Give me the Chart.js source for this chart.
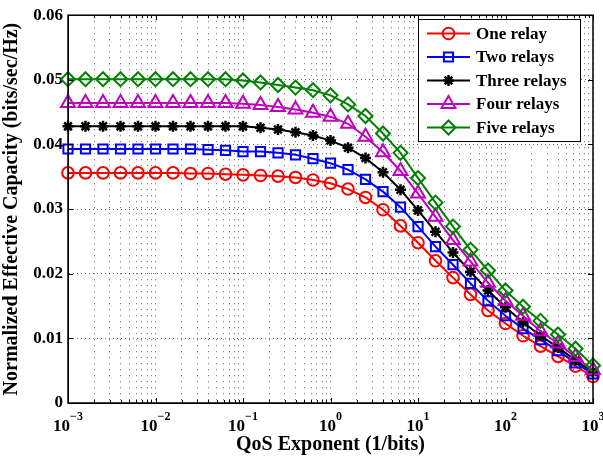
<!DOCTYPE html>
<html>
<head>
<meta charset="utf-8">
<script src="https://cdn.jsdelivr.net/npm/chart.js@4.4.1/dist/chart.umd.min.js"></script>
<style>
  html, body { margin: 0; padding: 0; background: #fff; }
</style>
</head>
<body>
<canvas id="capacidade" width="603" height="459"></canvas>
<script>
// eixo x: expoente QoS (5 pontos por decada)
const qosExpoente = [
  0.001, 0.001585, 0.002512, 0.003981, 0.00631,
  0.01, 0.01585, 0.02512, 0.03981, 0.0631,
  0.1, 0.1585, 0.2512, 0.3981, 0.631,
  1, 1.585, 2.512, 3.981, 6.31,
  10, 15.85, 25.12, 39.81, 63.1,
  100, 158.5, 251.2, 398.1, 631,
  1000,
];

// capacidade efetiva normalizada por numero de relays
const umRelay = [
  0.0356, 0.0356, 0.0356, 0.0356, 0.0356, 0.0356, 0.0356, 0.0355, 0.0355, 0.0354,
  0.0353, 0.0352, 0.0351, 0.0349, 0.0345, 0.034, 0.0331, 0.0318, 0.0299, 0.0274,
  0.0248, 0.022, 0.0194, 0.0168, 0.0143, 0.0123, 0.0104, 0.0088, 0.0072, 0.0057,
  0.0041,
];
const doisRelays = [
  0.0393, 0.0393, 0.0393, 0.0393, 0.0393, 0.0393, 0.0393, 0.0393, 0.0392, 0.0391,
  0.0389, 0.0389, 0.0387, 0.0384, 0.0378, 0.0371, 0.0361, 0.0346, 0.0327, 0.0303,
  0.0273, 0.0242, 0.0214, 0.0185, 0.0158, 0.0135, 0.0115, 0.0098, 0.0081, 0.0062,
  0.0045,
];
const tresRelays = [
  0.0428, 0.0428, 0.0428, 0.0428, 0.0428, 0.0428, 0.0428, 0.0428, 0.0428, 0.0428,
  0.0428, 0.0426, 0.0423, 0.0419, 0.0414, 0.0406, 0.0395, 0.0379, 0.0357, 0.033,
  0.0298, 0.0265, 0.0233, 0.0203, 0.0174, 0.0148, 0.0125, 0.0104, 0.0086, 0.0066,
  0.0048,
];
const quatroRelays = [
  0.0464, 0.0464, 0.0464, 0.0464, 0.0464, 0.0464, 0.0464, 0.0464, 0.0464, 0.0464,
  0.0463, 0.0461, 0.0458, 0.0454, 0.0449, 0.0443, 0.0432, 0.0412, 0.0388, 0.0359,
  0.0324, 0.0288, 0.0252, 0.0219, 0.0186, 0.0158, 0.0135, 0.0111, 0.0092, 0.0071,
  0.0051,
];
const cincoRelays = [
  0.0501, 0.0501, 0.0501, 0.0501, 0.0501, 0.0501, 0.0501, 0.0501, 0.0501, 0.0501,
  0.0499, 0.0496, 0.0492, 0.0488, 0.0484, 0.0476, 0.0462, 0.0444, 0.0417, 0.0387,
  0.0348, 0.031, 0.0273, 0.0237, 0.0205, 0.0174, 0.0149, 0.0127, 0.0106, 0.0084,
  0.0058,
];

const nomesSeries = ["One relay", "Two relays", "Three relays", "Four relays", "Five relays"];

// rotulos do eixo x (10 elevado a ...)
const xTickValores = [0.001, 0.01, 0.1, 1, 10, 100, 1000];
const xTickExpoentes = ["\u22123", "\u22122", "\u22121", "0", "1", "2", "3"];
const yTickValores = [0, 0.01, 0.02, 0.03, 0.04, 0.05, 0.06];

const FONTE = '"Liberation Serif", "Times New Roman", serif';

function serie(label, valores, cor, estilo, raio, espessura, ordem) {
  return {
    label: label,
    data: valores.map((v, i) => ({ x: qosExpoente[i], y: v })),
    borderColor: cor,
    backgroundColor: "transparent",
    borderWidth: 2,
    pointStyle: estilo,
    pointRadius: raio,
    pointBorderWidth: espessura,
    pointBorderColor: cor,
    pointBackgroundColor: "transparent",
    tension: 0,
    clip: false,
    order: ordem,
  };
}

// fundo branco
const fundoBranco = {
  id: "fundoBranco",
  beforeDraw(chart) {
    const c = chart.ctx;
    c.save();
    c.fillStyle = "#fff";
    c.fillRect(0, 0, chart.width, chart.height);
    c.restore();
  },
};

// caixa em volta + ticks para dentro (estilo matlab)
const moldura = {
  id: "moldura",
  afterDatasetsDraw(chart) {
    const c = chart.ctx;
    const a = chart.chartArea;
    const xs = chart.scales.x;
    const ys = chart.scales.y;
    c.save();
    c.strokeStyle = "#000";
    c.lineWidth = 1;
    xs.ticks.forEach((t) => {
      const px = Math.round(xs.getPixelForValue(t.value)) + 0.5;
      const len = t.major ? 5 : 3;
      c.beginPath();
      c.moveTo(px, a.bottom);
      c.lineTo(px, a.bottom - len);
      c.moveTo(px, a.top);
      c.lineTo(px, a.top + len);
      c.stroke();
    });
    yTickValores.forEach((v) => {
      const py = Math.round(ys.getPixelForValue(v)) + 0.5;
      c.beginPath();
      c.moveTo(a.left, py);
      c.lineTo(a.left + 5, py);
      c.moveTo(a.right, py);
      c.lineTo(a.right - 5, py);
      c.stroke();
    });
    c.lineWidth = 1.5;
    c.strokeRect(a.left, a.top, a.right - a.left, a.bottom - a.top);
    c.restore();
  },
};

// legenda dentro do grafico
const legendaInterna = {
  id: "legendaInterna",
  afterDraw(chart) {
    const c = chart.ctx;
    const bx = 418.5, by = 19.5, bw = 162, bh = 122;
    c.save();
    c.fillStyle = "#fff";
    c.fillRect(bx, by, bw, bh);
    c.strokeStyle = "#000";
    c.lineWidth = 1;
    c.strokeRect(bx, by, bw, bh);
    chart.data.datasets.forEach((ds, i) => {
      const y = 33.5 + i * 23.5;
      c.strokeStyle = ds.borderColor;
      c.lineWidth = 2;
      c.beginPath();
      c.moveTo(427, y);
      c.lineTo(470, y);
      c.stroke();
      c.fillStyle = "transparent";
      c.lineWidth = ds.pointBorderWidth;
      Chart.helpers.drawPoint(c, {
        pointStyle: ds.pointStyle,
        radius: ds.pointRadius,
        rotation: 0,
        borderWidth: ds.pointBorderWidth,
      }, 448.5, y);
      c.fillStyle = "#000";
      c.font = "bold 17px " + FONTE;
      c.textBaseline = "middle";
      c.textAlign = "left";
      c.fillText(ds.label, 476, y + 1);
    });
    c.restore();
  },
};

// rotulos 10^n com expoente sobrescrito
const rotulosLog = {
  id: "rotulosLog",
  afterDraw(chart) {
    const c = chart.ctx;
    const xs = chart.scales.x;
    const base = chart.chartArea.bottom;
    c.save();
    c.fillStyle = "#000";
    c.textBaseline = "alphabetic";
    c.textAlign = "left";
    xTickValores.forEach((v, i) => {
      const px = xs.getPixelForValue(v);
      c.font = "bold 17px " + FONTE;
      const wb = c.measureText("10").width;
      c.font = "bold 12px " + FONTE;
      const we = c.measureText(xTickExpoentes[i]).width;
      const x0 = px - (wb + we) / 2;
      c.font = "bold 17px " + FONTE;
      c.fillText("10", x0, base + 28);
      c.font = "bold 12px " + FONTE;
      c.fillText(xTickExpoentes[i], x0 + wb, base + 17);
    });
    c.restore();
  },
};

const ctx = document.getElementById("capacidade").getContext("2d");

new Chart(ctx, {
  type: "line",
  data: {
    datasets: [
      serie(nomesSeries[0], umRelay, "#ff0000", "circle", 5.8, 2, 5),
      serie(nomesSeries[1], doisRelays, "#0000ff", "rect", 6.5, 2, 4),
      serie(nomesSeries[2], tresRelays, "#000000", "star", 5.5, 2.5, 3),
      serie(nomesSeries[3], quatroRelays, "#bf00bf", "triangle", 8, 2, 2),
      serie(nomesSeries[4], cincoRelays, "#008000", "rectRot", 7, 2, 1),
    ],
  },
  options: {
    responsive: false,
    animation: false,
    events: [],
    layout: { padding: { top: 12, right: 10, left: 0, bottom: 4 } },
    plugins: {
      legend: { display: false },
      tooltip: { enabled: false },
    },
    scales: {
      x: {
        type: "logarithmic",
        min: 0.001,
        max: 1000,
        afterBuildTicks: (scale) => {
          const t = [];
          for (let e = -3; e < 3; e++) {
            for (let m = 1; m < 10; m++) {
              t.push({ value: m * Math.pow(10, e), major: m === 1 });
            }
          }
          t.push({ value: 1000, major: true });
          scale.ticks = t;
        },
        afterFit: (scale) => {
          scale.height = 52;
        },
        ticks: { display: false },
        grid: {
          color: "rgba(0,0,0,0.6)",
          lineWidth: 1,
          drawTicks: false,
        },
        border: { display: true, color: "#000", width: 1, dash: [1, 5] },
        title: {
          display: true,
          text: "QoS Exponent (1/bits)",
          color: "#000",
          font: { family: FONTE, size: 20, weight: "bold", lineHeight: 1 },
          padding: { top: 0, bottom: 0 },
        },
      },
      y: {
        min: 0,
        max: 0.06,
        afterFit: (scale) => {
          scale.width = 68;
        },
        ticks: {
          stepSize: 0.01,
          padding: 5,
          color: "#000",
          font: { family: FONTE, size: 17, weight: "bold" },
          callback: (v) => (v === 0 ? "0" : Number(v).toFixed(2)),
        },
        grid: {
          color: "rgba(0,0,0,0.6)",
          lineWidth: 1,
          drawTicks: false,
        },
        border: { display: true, color: "#000", width: 1, dash: [1, 3] },
        title: {
          display: true,
          text: "Normalized Effective Capacity (bits/sec/Hz)",
          color: "#000",
          font: { family: FONTE, size: 20, weight: "bold", lineHeight: 1 },
          padding: { top: 2, bottom: 0 },
        },
      },
    },
  },
  plugins: [fundoBranco, moldura, legendaInterna, rotulosLog],
});
</script>
</body>
</html>
